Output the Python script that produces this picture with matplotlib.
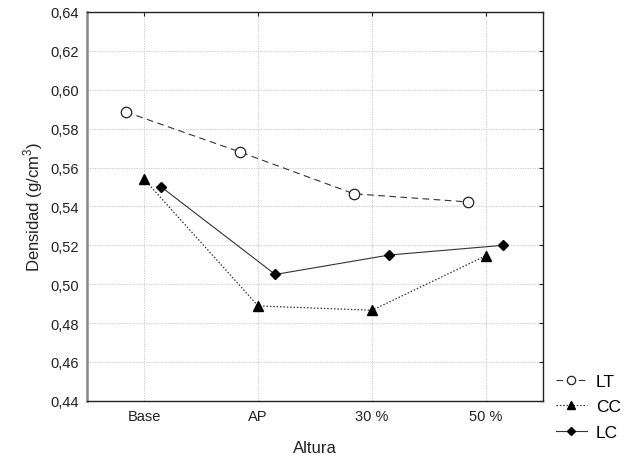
import matplotlib
matplotlib.use("Agg")
import matplotlib.pyplot as plt
import matplotlib.ticker as mticker
import numpy as np

plt.rcParams["font.family"] = ["Liberation Sans", "DejaVu Sans"]
plt.rcParams["mathtext.fontset"] = "custom"
plt.rcParams["mathtext.rm"] = "Liberation Sans"

# data
categorias = ["Base", "AP", "30 %", "50 %"]
lt = [0.5886, 0.568, 0.5465, 0.5423]
cc = [0.554, 0.4888, 0.4866, 0.5147]
lc = [0.550, 0.505, 0.515, 0.520]

x = np.arange(len(categorias))

fig = plt.figure(figsize=(6.36, 4.64), dpi=100)
ax = fig.add_axes([0.137, 0.134, 0.717, 0.838])

line_col = "#333333"
ax.plot(x - 0.16, lt, linestyle=(0, (6, 4)), color=line_col, lw=0.8,
        marker="o", ms=7.5, mfc="white", mec="#222222", mew=0.9, label="LT")
ax.plot(x, cc, linestyle=(0, (1.2, 1.5)), color=line_col, lw=0.9,
        marker="^", ms=7.5, mfc="black", mec="black", label="CC")
ax.plot(x + 0.15, lc, linestyle="-", color=line_col, lw=0.8,
        marker="D", ms=5.5, mfc="black", mec="black", label="LC")

ax.set_xlim(-0.5, 3.5)
ax.set_ylim(0.44, 0.64)
ax.set_xticks(x)
ax.set_xticklabels(categorias)
ax.set_yticks(np.arange(0.44, 0.6401, 0.02))
ax.yaxis.set_major_formatter(mticker.FuncFormatter(lambda v, p: f"{v:.2f}".replace(".", ",")))

ax.grid(True, color="#d2d2d2", linestyle=(0, (1.2, 1)), lw=0.8)
ax.set_axisbelow(True)
ax.tick_params(direction="in", length=3, width=0.8, top=True, right=True,
               labelsize=10.5, colors="#222222", pad=6)
ax.tick_params(axis="y", left=False)
ax.tick_params(axis="x", bottom=False)
for s in ["top", "right", "bottom"]:
    ax.spines[s].set_color("#222222")
    ax.spines[s].set_linewidth(1.0)
ax.spines["left"].set_color("#888888")
ax.spines["left"].set_linewidth(1.8)

ax.set_xlabel("Altura", fontsize=12, color="#222222", labelpad=12)
ax.set_ylabel("Densidad (g/cm$^3$)", fontsize=12, color="#222222")

fig.legend(loc="lower left", bbox_to_anchor=(0.874, 0.05), frameon=False,
           fontsize=12.5, handlelength=1.8, handletextpad=0.5, labelspacing=0.6,
           borderpad=0, borderaxespad=0, markerscale=0.8)

fig.savefig("out.png", dpi=100)
